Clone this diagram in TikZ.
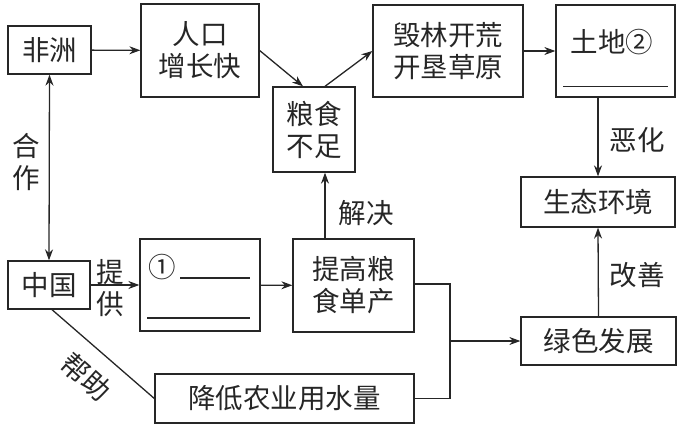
\documentclass[tikz,border=0pt]{standalone}
\usepackage{fontspec}
\newfontfamily\cjk{Noto Sans CJK SC}
\usetikzlibrary{arrows.meta,calc}
\tikzset{
  box/.style={draw=black!85, line width=1.3pt, align=center, inner sep=0pt, text=black!85},
  lbl/.style={align=center, inner sep=0pt, text=black!85},
  arr/.style={-{Stealth[length=11pt,width=8pt]}, line width=1.3pt, draw=black!85},
  dbl/.style={{Stealth[length=11pt,width=8pt]}-{Stealth[length=11pt,width=8pt]}, line width=1.3pt, draw=black!85},
  ln/.style={line width=1.3pt, draw=black!85},
}
\begin{document}
\begin{tikzpicture}[x=1pt,y=-1pt,font=\cjk\fontsize{27.5}{32}\selectfont]
\useasboundingbox (0,0) rectangle (679,442);
\node[box, minimum width=83pt, minimum height=48pt] (fz) at (49.5,50) {非洲};
\node[box, minimum width=118pt, minimum height=93pt] (rk) at (200,50.5) {人口\\增长快};
\node[box, minimum width=82pt, minimum height=85pt] (ls) at (314,129.5) {粮食\\不足};
\node[box, minimum width=150pt, minimum height=92pt] (hl) at (448,51) {毁林开荒\\开垦草原};
\node[box, minimum width=119pt, minimum height=92pt] (td) at (615.5,51) {};
\node[lbl] (tdt) at (612,42) {土地②};
\draw[ln] ([xshift=8pt,yshift=11pt]td.south west) -- ([xshift=-8pt,yshift=11pt]td.south east);
\node[box, minimum width=154pt, minimum height=50pt] (st) at (598,202) {生态环境};
\node[box, minimum width=82pt, minimum height=48pt] (zg) at (49,285) {中国};
\node[box, minimum width=120pt, minimum height=92pt] (b1) at (200,285) {};
\node[lbl] (b1t) at (162,267) {①};
\draw[ln] (180,278) -- (250,278);
\draw[ln] (147,318) -- (250,318);
\node[box, minimum width=121pt, minimum height=93pt] (tg) at (353.5,285.5) {提高粮\\食单产};
\node[box, minimum width=155pt, minimum height=48pt] (gd) at (598.5,341) {绿色发展};
\node[box, minimum width=259pt, minimum height=49pt] (jd) at (284.5,398.5) {降低农业用水量};

\node[lbl] (hz) at (26,162) {合\\作};
\node[lbl] (tgl) at (110,288) {提\\供};
\node[lbl] (jj) at (366,213) {解决};
\node[lbl] (eh) at (637,140) {恶化};
\node[lbl] (gs) at (637,275) {改善};
\node[lbl, rotate=-42] (bz) at (86,377) {帮助};

\draw[arr] (fz) -- (rk);
\draw[arr] (rk.east) -- ([xshift=-11pt]ls.north);
\draw[arr] ([xshift=11pt]ls.north) -- (hl.west);
\draw[arr] (hl) -- (td);
\draw[arr] (st.north |- td.south) -- (st.north);
\draw[arr] (gd.north) -- (st.south);
\draw[dbl] (fz.south) -- (zg.north);
\draw[arr] (zg) -- (b1);
\draw[arr] (b1) -- (tg);
\coordinate (lsb) at ([xshift=11pt]ls.south);
\draw[arr] (tg.north -| lsb) -- (lsb);
\draw[ln] ([xshift=3pt]zg.south) -- (jd.west);
\coordinate (j) at (450,341);
\draw[ln] (tg.east |- 0,284) -- (j |- 0,284) -- (j |- jd.east) -- (jd.east);
\draw[arr] (j) -- (gd.west);
\end{tikzpicture}
\end{document}
